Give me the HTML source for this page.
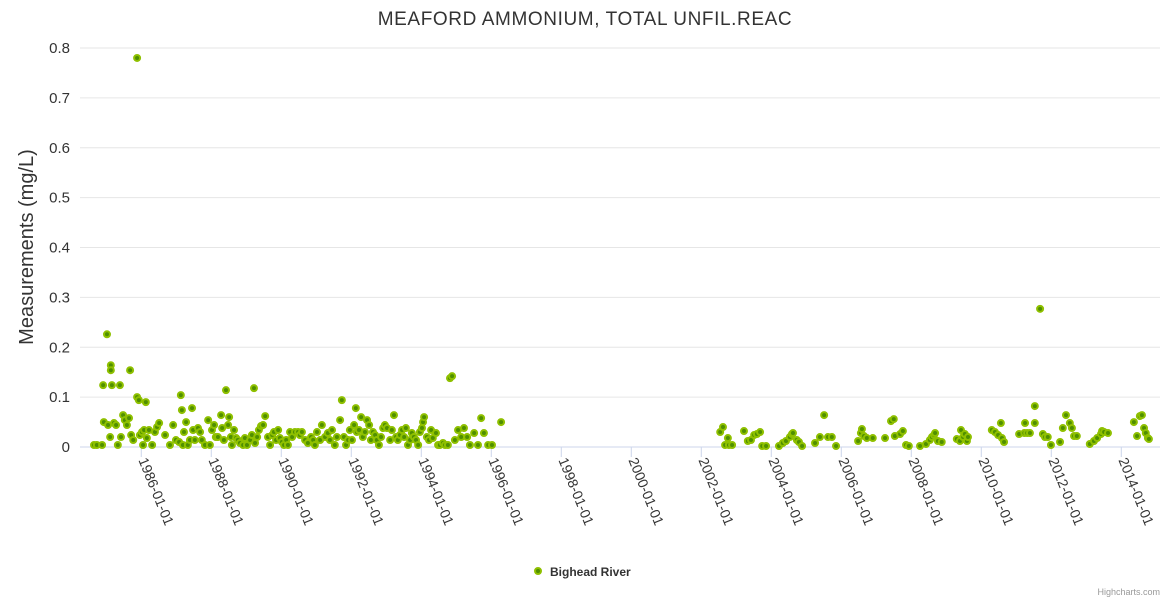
<!DOCTYPE html>
<html><head><meta charset="utf-8"><style>
html,body{margin:0;padding:0;background:#fff;width:1170px;height:600px;overflow:hidden}
svg text{font-family:"Liberation Sans",sans-serif}
</style></head><body>
<svg id="chart" width="1170" height="600" xmlns="http://www.w3.org/2000/svg">
<text x="585" y="25" text-anchor="middle" font-size="19" fill="#333" letter-spacing="0.6">MEAFORD AMMONIUM, TOTAL UNFIL.REAC</text>
<text transform="translate(33,247) rotate(-90)" text-anchor="middle" font-size="20" fill="#333">Measurements (mg/L)</text>
<g id="grid"></g><g id="xaxis"></g><g id="yaxis"></g><g id="points"></g>
<g>
<circle cx="538" cy="571" r="3" fill="#4f8f00" stroke="#8fc000" stroke-width="2"/>
<text x="550" y="576" font-size="12" font-weight="bold" fill="#333">Bighead River</text>
</g>
<text x="1160" y="595" text-anchor="end" font-size="9" fill="#999">Highcharts.com</text>
</svg>
<script>
const xTicks=[1986,1988,1990,1992,1994,1996,1998,2000,2002,2004,2006,2008,2010,2012,2014];
const yTicks=[0,0.1,0.2,0.3,0.4,0.5,0.6,0.7,0.8];
const dates=[1984.65,1984.73,1984.88,1984.91,1984.93,1985.02,1985.05,1985.11,1985.13,1985.13,1985.16,1985.22,1985.28,1985.33,1985.39,1985.42,1985.48,1985.53,1985.59,1985.65,1985.68,1985.71,1985.77,1985.88,1985.88,1985.93,1985.96,1986.02,1986.05,1986.08,1986.13,1986.16,1986.22,1986.31,1986.39,1986.45,1986.51,1986.68,1986.82,
1986.91,1986.99,1987.08,1987.13,1987.16,1987.19,1987.22,1987.28,1987.33,1987.39,1987.45,1987.48,1987.53,1987.62,1987.68,1987.73,1987.82,1987.91,1987.96,1988.02,1988.08,1988.13,1988.19,1988.28,1988.31,1988.36,1988.42,1988.48,1988.51,1988.56,1988.59,1988.65,1988.71,1988.76,1988.82,1988.91,1988.96,1989.02,1989.11,1989.16,1989.22,1989.25,1989.31,1989.36,1989.42,1989.48,1989.54,1989.62,1989.68,1989.74,1989.79,1989.85,1989.91,1989.96,1990.02,1990.08,1990.14,1990.19,1990.25,1990.31,1990.39,1990.48,1990.53,1990.59,1990.68,1990.76,1990.85,1990.91,1990.96,1991.02,1991.11,1991.16,1991.25,1991.33,1991.39,1991.45,1991.53,1991.59,1991.68,1991.73,1991.79,1991.85,1991.91,1991.96,1992.02,1992.08,1992.13,1992.16,1992.22,1992.28,1992.33,1992.39,1992.45,1992.51,1992.56,1992.62,1992.68,1992.73,1992.79,1992.85,1992.91,1992.96,1993.02,1993.11,1993.16,1993.22,1993.28,1993.33,1993.39,1993.45,1993.51,1993.56,1993.62,1993.68,1993.73,1993.79,1993.85,1993.91,1993.96,1994.02,1994.05,1994.08,1994.16,1994.22,1994.28,1994.33,1994.42,1994.48,1994.53,1994.62,1994.68,1994.76,1994.82,1994.88,1994.96,1995.05,1995.14,1995.22,1995.31,1995.39,1995.51,1995.62,1995.71,1995.79,1995.91,1996.02,1996.28,
2002.54,2002.62,2002.68,2002.76,2002.79,2002.88,2003.22,2003.33,2003.42,2003.51,2003.59,2003.68,2003.74,2003.85,2004.22,2004.33,2004.42,2004.53,2004.59,2004.62,2004.73,2004.79,2004.88,2005.25,2005.39,2005.51,2005.62,2005.73,2005.85,2006.48,2006.56,2006.59,2006.65,2006.73,2006.90,2007.25,2007.42,2007.50,2007.53,2007.68,2007.76,2007.85,2007.93,2008.25,2008.42,2008.53,2008.59,2008.65,2008.68,2008.76,2008.87,2009.30,2009.39,2009.42,2009.48,2009.53,2009.59,2009.62,2010.30,2010.39,2010.48,2010.56,2010.59,2010.65,2011.08,2011.23,2011.25,2011.31,2011.39,2011.53,2011.53,2011.68,2011.76,2011.82,2011.90,2011.99,2012.25,2012.33,2012.42,2012.53,2012.59,2012.65,2012.73,2013.10,2013.22,2013.31,2013.42,2013.45,2013.51,2013.62,2014.36,2014.45,2014.53,2014.59,2014.65,2014.70,2014.76,2014.79];
const values=[0.004,0.004,0.004,0.124,0.05,0.226,0.044,0.02,0.164,0.154,0.124,0.048,0.044,0.004,0.124,0.02,0.064,0.054,0.044,0.058,0.154,0.024,0.014,0.78,0.1,0.094,0.024,0.03,0.004,0.034,0.09,0.018,0.034,0.004,0.03,0.04,0.048,0.024,0.004,
0.044,0.014,0.01,0.104,0.074,0.004,0.03,0.05,0.004,0.014,0.078,0.034,0.014,0.038,0.03,0.014,0.004,0.054,0.004,0.034,0.044,0.02,0.02,0.064,0.038,0.014,0.114,0.044,0.06,0.02,0.004,0.034,0.018,0.014,0.008,0.004,0.018,0.004,0.014,0.024,0.118,0.008,0.02,0.034,0.042,0.044,0.062,0.02,0.004,0.024,0.03,0.014,0.034,0.018,0.01,0.004,0.014,0.004,0.03,0.02,0.03,0.03,0.024,0.03,0.014,0.008,0.02,0.014,0.004,0.03,0.014,0.044,0.02,0.028,0.014,0.034,0.004,0.02,0.054,0.094,0.02,0.004,0.014,0.034,0.014,0.044,0.078,0.03,0.034,0.06,0.02,0.03,0.054,0.044,0.014,0.03,0.024,0.014,0.004,0.02,0.038,0.044,0.038,0.014,0.034,0.064,0.02,0.014,0.024,0.034,0.02,0.038,0.004,0.014,0.028,0.02,0.014,0.004,0.03,0.038,0.05,0.06,0.02,0.014,0.034,0.018,0.028,0.004,0.004,0.008,0.004,0.004,0.138,0.142,0.014,0.034,0.02,0.038,0.02,0.004,0.028,0.004,0.058,0.028,0.004,0.004,0.05,
0.03,0.04,0.004,0.018,0.004,0.004,0.032,0.012,0.014,0.024,0.026,0.03,0.002,0.002,0.002,0.008,0.012,0.02,0.026,0.028,0.014,0.01,0.002,0.008,0.02,0.064,0.02,0.02,0.002,0.012,0.028,0.036,0.022,0.018,0.018,0.018,0.052,0.056,0.022,0.026,0.032,0.004,0.002,0.002,0.006,0.014,0.02,0.024,0.028,0.012,0.01,0.016,0.012,0.034,0.02,0.026,0.012,0.02,0.034,0.03,0.024,0.048,0.018,0.01,0.026,0.028,0.048,0.028,0.028,0.082,0.048,0.277,0.026,0.02,0.02,0.004,0.01,0.038,0.064,0.048,0.038,0.022,0.022,0.006,0.012,0.018,0.026,0.032,0.03,0.028,0.05,0.022,0.062,0.064,0.038,0.028,0.018,0.016];
const L=80,R=1160,T=48,B=447,X0=1984.249,X1=2015.106,Y1=0.8;
function sx(v){return L+(v-X0)/(X1-X0)*(R-L);}
function sy(v){return B-v/Y1*(B-T);}
const NS="http://www.w3.org/2000/svg";
function mk(tag,attrs,parent){const e=document.createElementNS(NS,tag);for(const k in attrs)e.setAttribute(k,attrs[k]);document.getElementById(parent).appendChild(e);return e;}
yTicks.forEach(t=>{
  const g=mk('line',{x1:L,x2:R,y1:sy(t),y2:sy(t),stroke:t===0?'#ccd6eb':'#e6e6e6','stroke-width':1},'grid');
  
  
  const tx=mk('text',{x:70,y:sy(t)+5,'text-anchor':'end','font-size':15,fill:'#333'},'yaxis');
  tx.textContent=String(t);
  
  
});
xTicks.forEach(t=>{
  const x=sx(t);
  const ln=mk('line',{x1:x,x2:x,y1:B,y2:B+10,stroke:'#ccd6eb'},'xaxis');
  
  
  const tx=mk('text',{transform:`translate(${x-3},${B+13}) rotate(68)`,'font-size':14,fill:'#333'},'xaxis');
  tx.textContent=t+'-01-01';
  
  
});
const n=Math.min(dates.length,values.length);
for(let i=0;i<n;i++){
  const c=mk('circle',{cx:sx(dates[i]),cy:sy(values[i]),r:3,fill:'#4f8f00',stroke:'#8fc000','stroke-width':2},'points');
  
  
}
</script>
</body></html>
